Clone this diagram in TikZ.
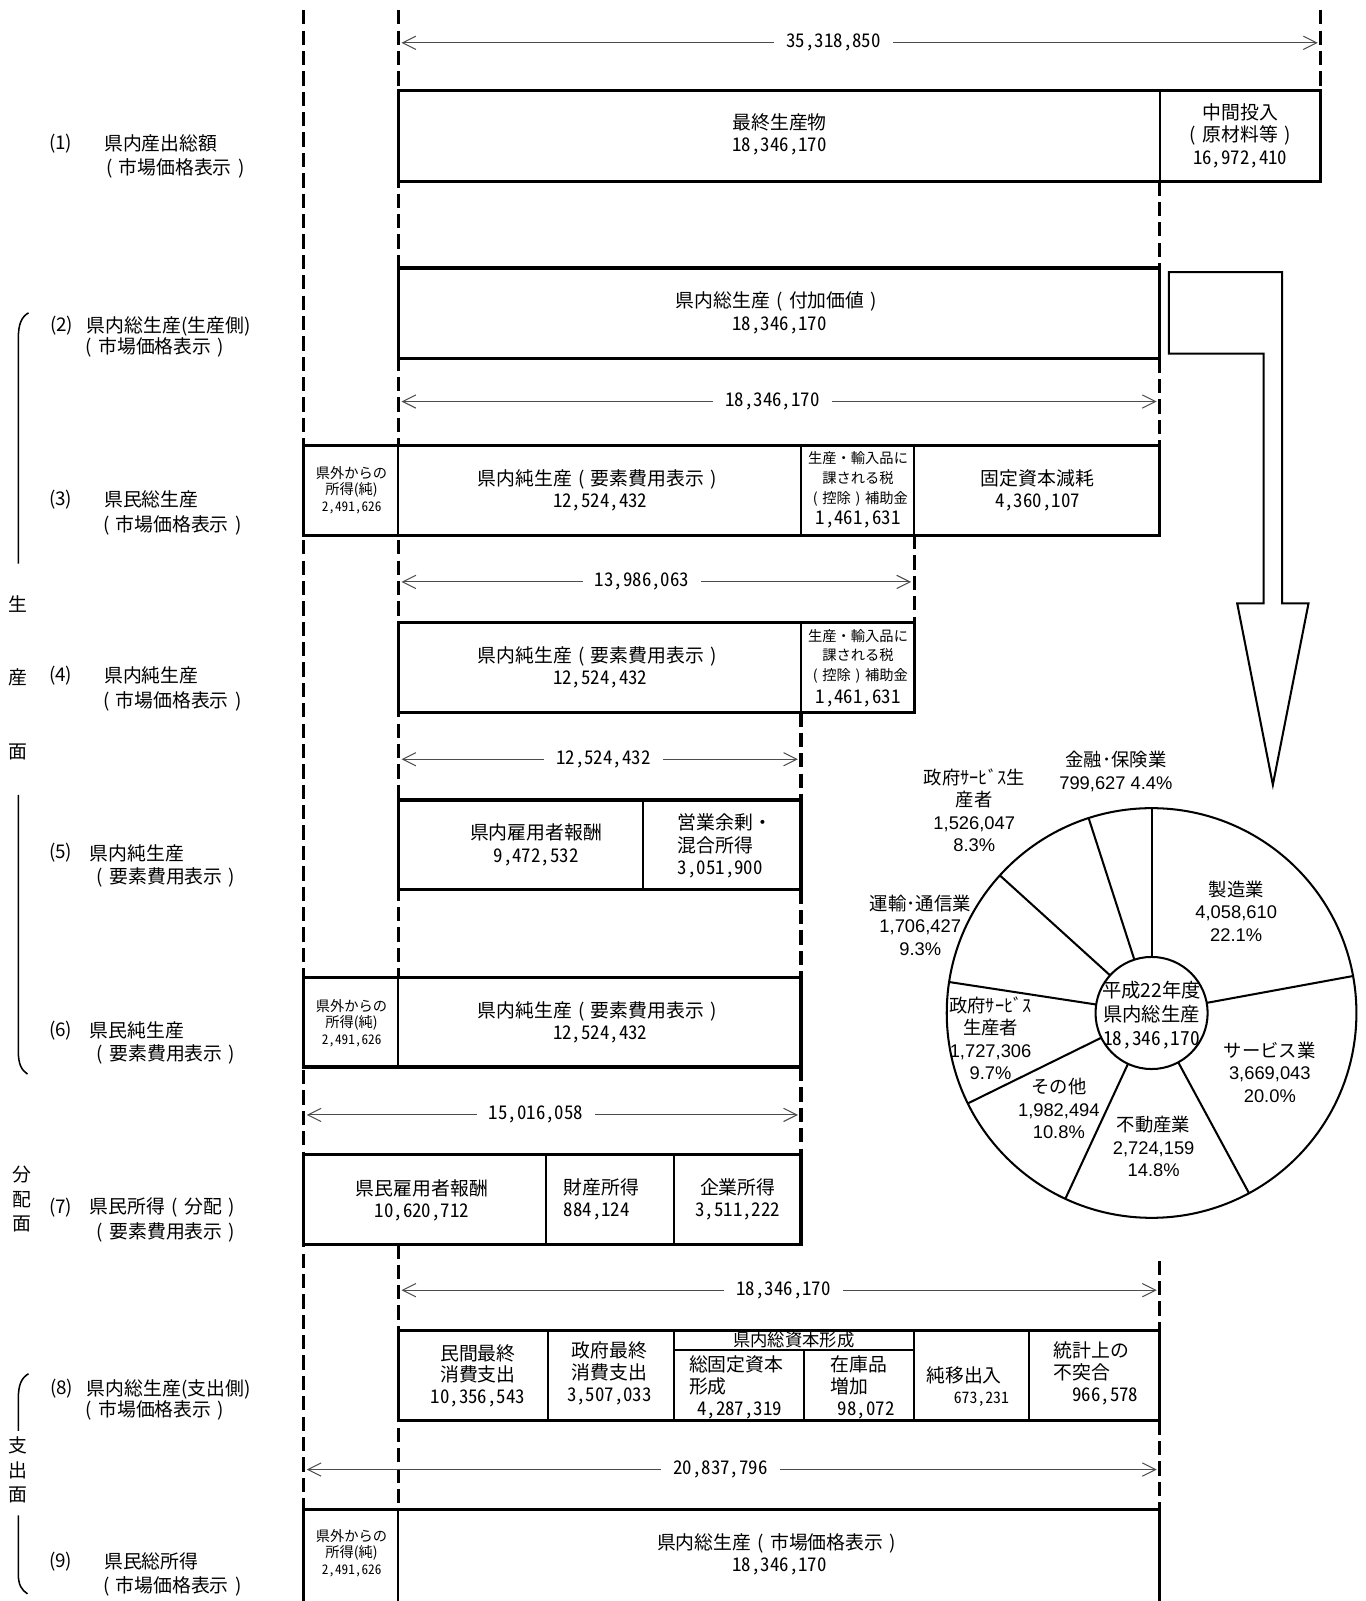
\documentclass[tikz,border=0pt]{standalone}
\usepackage{fontspec}
\setmainfont{Noto Sans CJK JP}
\newfontfamily\numf[RawFeature=+hwid]{Noto Sans CJK JP}
\newfontfamily\arialf{Liberation Sans}
\usetikzlibrary{arrows.meta}
\newcommand\nm[1]{{\numf #1}}
\newcommand\ar[1]{{\arialf #1}}
\newcommand\lp{\makebox[1em]{(}}
\newcommand\rp{\makebox[1em]{)}}
\begin{document}
\begin{tikzpicture}[x=1pt,y=-1pt,
  dl/.style={line width=3pt, dash pattern=on 14pt off 6pt},
  bx/.style={line width=3pt, fill=white},
  dv/.style={line width=2pt},
  dim/.style={draw=black!70, line width=1pt, arrows={Straight Barb[length=13pt,width=13pt]-Straight Barb[length=13pt,width=13pt]}, shorten <=3pt, shorten >=3pt},
  dimlab/.style={fill=white, inner xsep=12pt, inner ysep=1pt, font=\numf\fontsize{18.5}{22}\selectfont},
  cell/.style={align=center, inner sep=0pt, font=\fontsize{18.5}{22}\selectfont},
  cellL/.style={align=left, inner sep=0pt, anchor=west, font=\fontsize{18.5}{22}\selectfont},
  sm/.style={align=center, inner sep=0pt, font=\fontsize{14}{16.5}\selectfont},
  lab/.style={anchor=west, inner sep=0pt, font=\fontsize{18.5}{22}\selectfont},
  labc/.style={inner sep=0pt, font=\fontsize{18.5}{22}\selectfont},
  pie/.style={align=center, inner sep=0pt, font=\fontsize{18}{22}\selectfont},
  brk/.style={line width=1.5pt},
  bigarrow/.style={line width=2pt, fill=white}
]
\useasboundingbox (0,0) rectangle (1340,1571);
\fill[white] (0,0) rectangle (1340,1571);

% dashed guide lines
\draw[dl] (298,10) -- (298,1575);
\draw[dl] (391,10) -- (391,1047);
\draw[dl] (391,1221) -- (391,1575);
\draw[dl] (1296,10) -- (1296,89);
\draw[dl] (1138,178) -- (1138,263);
\draw[dl] (1138,352) -- (1138,437);
\draw[dl] (1138,1237) -- (1138,1306);
\draw[dl] (1138,1394) -- (1138,1481);
\draw[dl] (897,525) -- (897,611);
\draw[dl] (786,699) -- (786,785);
\draw[dl] (786,873) -- (786,959);
\draw[dl] (786,1047) -- (786,1133);

% boxes
\draw[bx] (391,89) rectangle (1296,178); \draw[dv] (1138,89) -- (1138,178);
\draw[bx] (391,263) rectangle (1138,352);
\draw[bx] (298,437) rectangle (1138,525);
\draw[dv] (391,437) -- (391,525); \draw[dv] (786,437) -- (786,525); \draw[dv] (897,437) -- (897,525);
\draw[bx] (391,611) rectangle (897,699); \draw[dv] (786,611) -- (786,699);
\draw[bx] (391,785) rectangle (786,873); \draw[dv] (631,785) -- (631,873);
\draw[bx] (298,959) rectangle (786,1047); \draw[dv] (391,959) -- (391,1047);
\draw[bx] (298,1133) rectangle (786,1221); \draw[dv] (536,1133) -- (536,1221); \draw[dv] (661,1133) -- (661,1221);
\draw[bx] (391,1306) rectangle (1138,1394);
\draw[dv] (538,1306) -- (538,1394); \draw[dv] (661,1306) -- (661,1394);
\draw[dv] (897,1306) -- (897,1394); \draw[dv] (1010,1306) -- (1010,1394);
\draw[dv] (661,1325) -- (897,1325); \draw[dv] (789,1325) -- (789,1394);
\fill[white] (298,1481) rectangle (1138,1575);
\draw[line width=3pt] (298,1580) -- (298,1481) -- (1138,1481) -- (1138,1580);
\draw[dv] (391,1481) -- (391,1580);

% dimension arrows
\coordinate (a1l) at (391,42); \coordinate (a1r) at (1296,42);
\draw[dim] (a1l) -- (a1r); \node[dimlab] (t1) at (818,42) {35,318,850};
\coordinate (a2l) at (391,394); \coordinate (a2r) at (1138,394);
\draw[dim] (a2l) -- (a2r); \node[dimlab] (t2) at (758,394) {18,346,170};
\coordinate (a3l) at (391,571); \coordinate (a3r) at (897,571);
\draw[dim] (a3l) -- (a3r); \node[dimlab] (t3) at (630,571) {13,986,063};
\coordinate (a4l) at (391,745); \coordinate (a4r) at (786,745);
\draw[dim] (a4l) -- (a4r); \node[dimlab] (t4) at (592,745) {12,524,432};
\coordinate (a6l) at (298,1094); \coordinate (a6r) at (786,1094);
\draw[dim] (a6l) -- (a6r); \node[dimlab] (t6) at (526,1094) {15,016,058};
\coordinate (a7l) at (391,1266); \coordinate (a7r) at (1138,1266);
\draw[dim] (a7l) -- (a7r); \node[dimlab] (t7) at (769,1266) {18,346,170};
\coordinate (a8l) at (298,1442); \coordinate (a8r) at (1138,1442);
\draw[dim] (a8l) -- (a8r); \node[dimlab] (t8) at (707,1442) {20,837,796};

% cell texts
\node[cell] (c1a) at (765,132) {最終生産物\\\nm{18,346,170}};
\node[cell] (c1b) at (1217,133) {中間投入\\\lp 原材料等\rp\\\nm{16,972,410}};
\node[cell] (c2a) at (765,307) {県内総生産\lp 付加価値\rp\\\nm{18,346,170}};

\node[sm] (c3a) at (345,481) {県外からの\\所得(純)\\{\numf\fontsize{13}{16.5}\selectfont 2,491,626}};
\node[cell] (c3b) at (589,481) {県内純生産\lp 要素費用表示\rp\\\nm{12,524,432}};
\node[sm, font=\fontsize{14}{19.5}\selectfont] (c3c) at (842,470) {生産・輸入品に\\課される税\\\lp 控除\rp 補助金};
\node[cell] (c3d) at (842,510) {\nm{1,461,631}};
\node[cell] (c3e) at (1018,481) {固定資本減耗\\\nm{4,360,107}};

\node[cell] (c4a) at (589,655) {県内純生産\lp 要素費用表示\rp\\\nm{12,524,432}};
\node[sm, font=\fontsize{14}{19.5}\selectfont] (c4c) at (842,644) {生産・輸入品に\\課される税\\\lp 控除\rp 補助金};
\node[cell] (c4d) at (842,685) {\nm{1,461,631}};

\node[cell] (c5a) at (526,829) {県内雇用者報酬\\\nm{9,472,532}};
\node[cellL] (c5b) at (665,830) {営業余剰・\\混合所得\\\nm{3,051,900}};

\node[sm] (c6a) at (345,1004) {県外からの\\所得(純)\\{\numf\fontsize{13}{16.5}\selectfont 2,491,626}};
\node[cell] (c6b) at (589,1003) {県内純生産\lp 要素費用表示\rp\\\nm{12,524,432}};

\node[cell] (c7a) at (414,1178) {県民雇用者報酬\\\nm{10,620,712}};
\node[cellL] (c7b) at (553,1177) {財産所得\\\nm{884,124}};
\node[cell] (c7c) at (724,1177) {企業所得\\\nm{3,511,222}};

\node[cell, font=\fontsize{18.5}{21.5}\selectfont] (c8a) at (469,1350) {民間最終\\消費支出\\\nm{10,356,543}};
\node[cell, font=\fontsize{18.5}{21.5}\selectfont] (c8b) at (598,1348) {政府最終\\消費支出\\\nm{3,507,033}};
\node[cell, font=\fontsize{17}{20}\selectfont] (c8c) at (779,1315) {県内総資本形成};
\node[cellL, font=\fontsize{18.5}{21.5}\selectfont] (c8d) at (676,1361) {総固定資本\\形成\\\hspace*{8pt}\nm{4,287,319}};
\node[cellL, font=\fontsize{18.5}{21.5}\selectfont] (c8e) at (815,1361) {在庫品\\増加\\\hspace*{7pt}\nm{98,072}};
\node[cell] (c8f) at (946,1350) {純移出入};
\node[cell, font=\numf\fontsize{15.5}{18}\selectfont] (c8g) at (963,1373) {673,231};
\node[cellL, font=\fontsize{18.5}{21.5}\selectfont] (c8h) at (1034,1348) {統計上の\\不突合\\\hspace*{18pt}\nm{966,578}};

\node[sm] (c9a) at (345,1524) {県外からの\\所得(純)\\{\numf\fontsize{13}{16.5}\selectfont 2,491,626}};
\node[cell] (c9b) at (765,1525) {県内総生産\lp 市場価格表示\rp\\\nm{18,346,170}};

% left labels
\node[lab] (l1n) at (48,141) {(1)};
\node[lab] (l1a) at (102,141) {県内産出総額};
\node[labc] (l1b) at (172,165) {\lp 市場価格表示\rp};
\node[lab] (l2n) at (49,320) {(2)};
\node[lab] (l2a) at (85,320) {県内総生産(生産側)};
\node[labc] (l2b) at (152,341) {\lp 市場価格表示\rp};
\node[lab] (l3n) at (48,490) {(3)};
\node[lab] (l3a) at (102,490) {県民総生産};
\node[labc] (l3b) at (169,516) {\lp 市場価格表示\rp};
\node[lab] (l4n) at (48,663) {(4)};
\node[lab] (l4a) at (102,663) {県内純生産};
\node[labc] (l4b) at (169,688) {\lp 市場価格表示\rp};
\node[lab] (l5n) at (48,837) {(5)};
\node[lab] (l5a) at (88,837) {県内純生産};
\node[labc] (l5b) at (163,861) {\lp 要素費用表示\rp};
\node[lab] (l6n) at (48,1011) {(6)};
\node[lab] (l6a) at (88,1011) {県民純生産};
\node[labc] (l6b) at (163,1035) {\lp 要素費用表示\rp};
\node[lab] (l7n) at (48,1185) {(7)};
\node[lab] (l7a) at (88,1185) {県民所得\lp 分配\rp};
\node[labc] (l7b) at (163,1209) {\lp 要素費用表示\rp};
\node[lab] (l8n) at (49,1363) {(8)};
\node[lab] (l8a) at (85,1363) {県内総生産(支出側)};
\node[labc] (l8b) at (152,1384) {\lp 市場価格表示\rp};
\node[lab] (l9n) at (48,1532) {(9)};
\node[lab] (l9a) at (102,1532) {県民総所得};
\node[labc] (l9b) at (169,1557) {\lp 市場価格表示\rp};

% side group labels
\node[labc] (s1) at (18,593) {生};
\node[labc] (s2) at (18,665) {産};
\node[labc] (s3) at (18,738) {面};
\node[labc] (s4) at (22,1153) {分};
\node[labc] (s5) at (22,1177) {配};
\node[labc] (s6) at (22,1201) {面};
\node[labc] (s7) at (18,1418) {支};
\node[labc] (s8) at (18,1443) {出};
\node[labc] (s9) at (18,1467) {面};

% brackets
\draw[brk] (28,307) .. controls (21,311) and (18,318) .. (18,332) -- (18,553);
\draw[brk] (18,780) -- (18,1032) .. controls (18,1044) and (21,1050) .. (27,1054);
\draw[brk] (28,1348) .. controls (21,1352) and (18,1359) .. (18,1372) -- (18,1404);
\draw[brk] (18,1487) -- (18,1545) .. controls (18,1555) and (21,1560) .. (27,1564);

% big arrow
\draw[bigarrow] (1147,267) -- (1258,267) -- (1258,592) -- (1284,592) -- (1249,770)
  -- (1214,592) -- (1240,592) -- (1240,347) -- (1147,347) -- cycle;

% pie chart
\coordinate (pc) at (1130,994);
\draw[line width=2pt, fill=white] (pc) circle[radius=201pt];
\foreach \a in {90,10.4,-61.6,-114.9,-153.8,171.3,137.8,107.9}
  \draw[line width=2pt] ([shift={(\a:55pt)}]pc) -- ([shift={(\a:201pt)}]pc);
\node[draw, circle, line width=2pt, fill=white, minimum size=110pt, inner sep=0pt] (pin) at (pc) {};
\node[align=center, inner sep=0pt, font=\fontsize{19}{23.5}\selectfont] (pct) at (1130,996) {平成22年度\\県内総生産\\\nm{18,346,170}};

\node[pie] (p1) at (1095,757) {金融･保険業\\\ar{799,627 4.4\%}};
\node[pie] (p2) at (956,795) {政府ｻｰﾋﾞｽ生\\産者\\\ar{1,526,047}\\\ar{8.3\%}};
\node[pie] (p3) at (1213,894) {製造業\\\ar{4,058,610}\\\ar{22.1\%}};
\node[pie] (p4) at (903,908) {運輸･通信業\\\ar{1,706,427}\\\ar{9.3\%}};
\node[pie] (p5) at (972,1019) {政府ｻｰﾋﾞｽ\\生産者\\\ar{1,727,306}\\\ar{9.7\%}};
\node[pie] (p6) at (1246,1052) {サービス業\\\ar{3,669,043}\\\ar{20.0\%}};
\node[pie] (p7) at (1039,1088) {その他\\\ar{1,982,494}\\\ar{10.8\%}};
\node[pie] (p8) at (1132,1125) {不動産業\\\ar{2,724,159}\\\ar{14.8\%}};
\end{tikzpicture}
\end{document}
